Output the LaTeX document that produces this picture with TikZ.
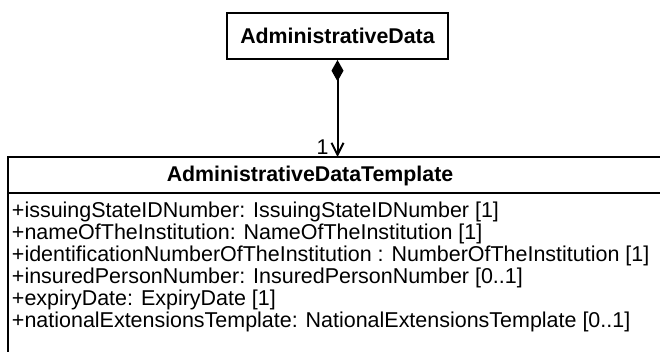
\documentclass[tikz,border=0pt]{standalone}
\usepackage{fontspec}
\setmainfont{Liberation Sans}
\usetikzlibrary{arrows.meta}

\begin{document}
\begin{tikzpicture}[x=0.75pt, y=-0.75pt, line width=1.5pt]
    \useasboundingbox (0,0) rectangle (660,352);
    \clip (0,0) rectangle (660,352);
    \node [draw, minimum width=165.75pt, minimum height=34.5pt, font=\fontsize{16}{19}\selectfont\bfseries] (data) at (337.5,36) {AdministrativeData};
    \draw (8,400) -- (8,157) -- (700,157);
    \draw (8,193) -- (700,193);
    \node [font=\fontsize{16}{19}\selectfont\bfseries] (tmpl) at (310,176) {AdministrativeDataTemplate};
    \coordinate (tip) at (337.5,157);
    \draw [{Diamond[length=16pt, width=9pt]}-{Straight Barb[length=9pt, width=9pt]}] (data.south) -- (tip) node [at end, anchor=south east, xshift=-6pt, yshift=1pt, inner sep=0pt, font=\fontsize{16}{19}\selectfont] (mult) {1};
    \node [anchor=north west, inner sep=0pt, align=left, font=\fontsize{16.1}{16.5}\selectfont] (attrs) at (11,201) {+issuingStateIDNumber: IssuingStateIDNumber [1]\\
      +nameOfTheInstitution: NameOfTheInstitution [1]\\
      +identificationNumberOfTheInstitution : NumberOfTheInstitution [1]\\
      +insuredPersonNumber: InsuredPersonNumber [0..1]\\
      +expiryDate: ExpiryDate [1]\\
      +nationalExtensionsTemplate: NationalExtensionsTemplate [0..1]};
  \end{tikzpicture}
\end{document}
